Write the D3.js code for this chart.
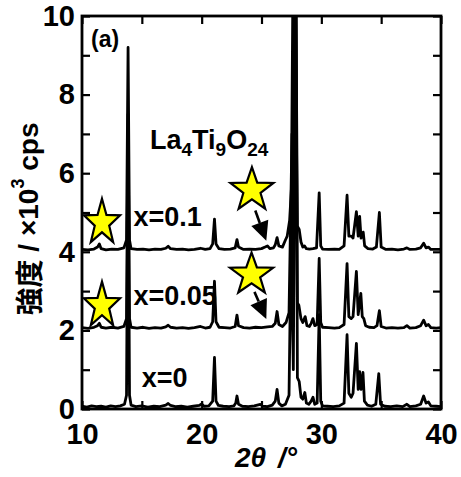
<!DOCTYPE html>
<html><head><meta charset="utf-8">
<script src="https://cdn.jsdelivr.net/npm/d3@7/dist/d3.min.js"></script>
<style>
html,body{margin:0;padding:0;background:#fff;}
svg text{font-family:"Liberation Sans",Arial,sans-serif;font-weight:bold;fill:#000;}
</style></head>
<body>
<svg id="chart" width="461" height="477"></svg>
<script>
// ---- data (2θ in degrees, intensity in 10^3 cps, relative to series offset) ----
const seriesNames = ["x=0", "x=0.05", "x=0.1"];
const seriesOffsets = [0, 2, 4];
const xTicks = [10, 15, 20, 25, 30, 35, 40];
const xTickLabels = [10, 20, 30, 40];
const yTicks = [0, 1, 2, 3, 4, 5, 6, 7, 8, 9, 10];
const yTickLabels = [0, 2, 4, 6, 8, 10];

const pattern0 = [
[10.0,0.07],[10.4,0.05],[10.8,0.08],[11.2,0.06],[11.6,0.07],[12.0,0.05],[12.4,0.08],[12.8,0.06],[13.2,0.08],[13.55,0.12],
[13.72,0.35],[13.85,7.0],[13.97,0.35],[14.1,0.1],[14.5,0.06],[15.0,0.08],[15.5,0.05],[16.0,0.07],[16.5,0.06],[17.0,0.1],
[17.2,0.14],[17.4,0.09],[17.8,0.06],[18.3,0.07],[18.8,0.05],[19.3,0.07],[19.8,0.09],[20.0,0.13],[20.2,0.07],[20.6,0.08],
[20.92,0.2],[21.07,1.31],[21.2,0.2],[21.4,0.09],[21.8,0.07],[22.3,0.06],[22.7,0.08],[22.85,0.15],[22.95,0.33],[23.08,0.12],
[23.4,0.07],[23.9,0.06],[24.4,0.08],[24.9,0.12],[25.1,0.07],[25.5,0.06],[25.9,0.1],[26.15,0.2],[26.3,0.5],[26.45,0.15],
[26.7,0.08],[27.0,0.12],[27.3,0.35],[27.48,4.5],[27.66,1.0],[27.87,12],[28.0,0.8],[28.15,0.7],[28.3,0.3],[28.45,0.25],
[28.62,0.42],[28.75,0.15],[28.95,0.12],[29.15,0.2],[29.3,0.3],[29.45,0.12],[29.65,0.15],[29.82,2.4],[29.95,0.2],[30.1,0.08],
[30.5,0.07],[31.0,0.06],[31.5,0.08],[31.9,0.15],[32.15,1.89],[32.3,0.4],[32.5,0.3],[32.65,0.4],[32.93,1.67],[33.08,0.5],
[33.2,0.95],[33.32,0.5],[33.48,0.93],[33.6,0.2],[33.85,0.1],[34.2,0.07],[34.55,0.12],[34.8,0.9],[34.95,0.12],[35.3,0.07],
[35.8,0.06],[36.3,0.08],[36.8,0.06],[37.15,0.12],[37.4,0.06],[37.9,0.08],[38.3,0.12],[38.55,0.33],[38.75,0.15],[38.95,0.18],
[39.15,0.08],[39.6,0.07],[40.0,0.06]
];
const pattern005 = [
[10.0,0.07],[10.5,0.05],[11.0,0.08],[11.3,0.12],[11.45,0.18],[11.6,0.08],[12.0,0.06],[12.5,0.08],[13.0,0.06],[13.5,0.1],
[13.72,0.3],[13.85,5.5],[13.97,0.3],[14.1,0.08],[14.6,0.06],[15.1,0.08],[15.6,0.05],[16.1,0.07],[16.6,0.06],[17.0,0.09],
[17.2,0.13],[17.4,0.08],[17.9,0.06],[18.4,0.07],[18.9,0.05],[19.4,0.07],[19.9,0.1],[20.3,0.06],[20.7,0.08],[20.92,0.22],
[21.07,1.25],[21.2,0.22],[21.45,0.08],[21.9,0.07],[22.4,0.06],[22.8,0.1],[22.95,0.39],[23.08,0.12],[23.5,0.07],[24.0,0.06],
[24.5,0.08],[25.0,0.07],[25.5,0.09],[25.9,0.1],[26.15,0.18],[26.3,0.48],[26.45,0.15],[26.75,0.1],[27.05,0.2],[27.3,0.45],
[27.55,5.0],[27.68,1.8],[27.8,12],[28.0,0.7],[28.12,0.64],[28.3,0.3],[28.45,0.2],[28.65,0.35],[28.8,0.12],[29.0,0.1],
[29.15,0.18],[29.3,0.3],[29.45,0.12],[29.65,0.15],[29.82,1.83],[29.95,0.2],[30.1,0.08],[30.6,0.07],[31.1,0.06],[31.5,0.07],
[31.9,0.15],[32.15,1.7],[32.3,0.35],[32.5,0.3],[32.65,0.35],[32.93,1.5],[33.08,0.4],[33.3,0.94],[33.42,0.35],[33.55,0.3],
[33.7,0.12],[34.0,0.08],[34.4,0.07],[34.65,0.12],[34.85,0.5],[35.0,0.1],[35.4,0.06],[35.9,0.07],[36.4,0.06],[36.9,0.07],
[37.15,0.12],[37.4,0.06],[37.9,0.07],[38.3,0.12],[38.55,0.26],[38.75,0.12],[38.95,0.15],[39.15,0.07],[39.6,0.06],[40.0,0.07]
];
const pattern01 = [
[10.0,0.06],[10.5,0.05],[11.0,0.07],[11.3,0.12],[11.45,0.2],[11.6,0.08],[12.0,0.05],[12.5,0.07],[13.0,0.06],[13.5,0.1],
[13.72,0.3],[13.85,5.2],[13.97,0.3],[14.1,0.08],[14.6,0.06],[15.1,0.07],[15.6,0.05],[16.1,0.07],[16.6,0.06],[17.0,0.09],
[17.2,0.14],[17.4,0.08],[17.9,0.06],[18.4,0.07],[18.9,0.05],[19.4,0.06],[19.9,0.09],[20.3,0.06],[20.7,0.08],[20.92,0.2],
[21.07,0.83],[21.2,0.2],[21.45,0.08],[21.9,0.06],[22.4,0.07],[22.8,0.1],[22.95,0.31],[23.08,0.12],[23.5,0.06],[24.0,0.07],
[24.5,0.06],[25.0,0.08],[25.3,0.12],[25.5,0.15],[25.7,0.08],[26.0,0.1],[26.15,0.18],[26.3,0.36],[26.45,0.15],[26.75,0.12],
[27.0,0.3],[27.15,0.4],[27.35,0.8],[27.5,1.6],[27.75,12],[28.0,0.65],[28.15,0.57],[28.3,0.25],[28.45,0.12],
[28.6,0.15],[28.75,0.08],[29.0,0.07],[29.3,0.08],[29.6,0.1],[29.82,1.5],[29.95,0.15],[30.1,0.07],[30.6,0.06],[31.1,0.07],
[31.5,0.06],[31.9,0.15],[32.15,1.44],[32.3,0.4],[32.5,0.4],[32.65,0.35],[32.93,1.02],[33.08,0.4],[33.2,0.9],[33.32,0.35],
[33.5,0.5],[33.62,0.15],[33.9,0.08],[34.3,0.07],[34.6,0.12],[34.85,1.0],[35.0,0.12],[35.4,0.06],[35.9,0.07],[36.4,0.05],
[36.9,0.07],[37.15,0.1],[37.4,0.06],[37.9,0.07],[38.3,0.1],[38.55,0.22],[38.75,0.1],[38.95,0.12],[39.15,0.06],[39.6,0.06],
[40.0,0.06]
];
const patterns = [pattern0, pattern005, pattern01];

// label positions in data units [2θ, intensity]
const seriesLabelPos = [[15.0, 0.55], [14.3, 2.65], [14.3, 4.65]];
// star annotations: [2θ, intensity]
const starPos = [[11.67, 4.74], [11.67, 2.63], [24.2, 5.57], [24.17, 3.42]];
const starRadii = [[19, 24], [19, 24], [22.6, 23], [22.6, 22.1]];
// arrows: [[from2θ, fromI], [to2θ, toI]]
const arrows = [[[24.48, 5.05], [25.4, 4.28]], [[24.41, 2.98], [25.4, 2.29]]];

// ---- chart ----
const svg = d3.select("#chart");
const X0 = 82, X1 = 441, Y0 = 409, Y1 = 16;
const x = d3.scaleLinear().domain([10, 40]).range([X0, X1]);
const y = d3.scaleLinear().domain([0, 10]).range([Y0, Y1]);

svg.append("defs").append("clipPath").attr("id", "clip")
  .append("rect").attr("x", X0).attr("y", Y1).attr("width", X1 - X0).attr("height", Y0 - Y1);

const line = d3.line().x(d => x(d[0])).y(d => y(d[1]));
const gData = svg.append("g").attr("clip-path", "url(#clip)");
patterns.forEach((p, i) => {
  gData.append("path")
    .attr("d", line(p.map(d => [d[0], d[1] + seriesOffsets[i]])))
    .attr("fill", "none").attr("stroke", "#000").attr("stroke-width", 2.8)
    .attr("stroke-linejoin", "round");
});

// axes
const fmtX = d => xTickLabels.includes(d) ? d : "";
const fmtY = d => yTickLabels.includes(d) ? d : "";
function styleAxis(g){
  g.select(".domain").remove();
  g.selectAll(".tick line").attr("stroke", "#000").attr("stroke-width", 2.2);
  g.selectAll(".tick text").style("font-size", "29px").style("font-weight", "bold")
    .style("font-family", '"Liberation Sans", Arial, sans-serif').attr("fill", "#000");
}
svg.append("g").attr("transform", `translate(0,${Y0})`)
  .call(d3.axisBottom(x).tickValues(xTicks).tickFormat(fmtX).tickSize(-8).tickPadding(14)).call(styleAxis);
svg.append("g").attr("transform", `translate(0,${Y1})`)
  .call(d3.axisTop(x).tickValues(xTicks).tickFormat("").tickSize(-8)).call(styleAxis);
svg.append("g").attr("transform", `translate(${X0},0)`)
  .call(d3.axisLeft(y).tickValues(yTicks).tickFormat(fmtY).tickSize(-8).tickPadding(7)).call(styleAxis);
svg.append("g").attr("transform", `translate(${X1},0)`)
  .call(d3.axisRight(y).tickValues(yTicks).tickFormat("").tickSize(-8)).call(styleAxis);

svg.append("rect").attr("x", X0).attr("y", Y1).attr("width", X1 - X0).attr("height", Y0 - Y1)
  .attr("fill", "none").attr("stroke", "#000").attr("stroke-width", 2.8);

// axis titles
svg.append("text").attr("transform", `translate(28,219) rotate(-90)`)
  .attr("text-anchor", "middle").attr("dominant-baseline", "central")
  .style("font-size", "28px")
  .style("font-family", '"Liberation Sans", Arial, "Noto Sans CJK JP", sans-serif')
  .html('<tspan style="font-family:\'Noto Sans CJK JP\'">強度</tspan> / ×10<tspan dy="-10" style="font-size:18px">3</tspan><tspan dy="10"> cps</tspan>');

const xt = svg.append("text").attr("x", 266).attr("y", 467).attr("text-anchor", "middle")
  .style("font-size", "28px").style("font-style", "italic");
xt.append("tspan").text("2θ");
xt.append("tspan").attr("dx", 12).text("/°");

// panel label
svg.append("text").attr("x", 91).attr("y", 47).style("font-size", "23px").text("(a)");

// compound label
const comp = svg.append("text").attr("x", 150).attr("y", 149).style("font-size", "27px");
comp.append("tspan").text("La");
comp.append("tspan").attr("dy", 7).style("font-size", "19px").text("4");
comp.append("tspan").attr("dy", -7).text("Ti");
comp.append("tspan").attr("dy", 7).style("font-size", "19px").text("9");
comp.append("tspan").attr("dy", -7).text("O");
comp.append("tspan").attr("dy", 7).style("font-size", "19px").text("24");

// series labels
seriesNames.forEach((n, i) => {
  svg.append("text").attr("x", x(seriesLabelPos[i][0])).attr("y", y(seriesLabelPos[i][1]))
    .style("font-size", "27px").text(n);
});

// stars
function starPath(cx, cy, rx, ry){
  const pts = [];
  for (let k = 0; k < 10; k++){
    const a = -Math.PI / 2 + k * Math.PI / 5;
    const r = k % 2 === 0 ? 1 : 0.4;
    pts.push([cx + rx * r * Math.cos(a), cy + ry * r * Math.sin(a)]);
  }
  return "M" + pts.map(p => p.join(",")).join("L") + "Z";
}
starPos.forEach((s, i) => {
  svg.append("path").attr("d", starPath(x(s[0]), y(s[1]), starRadii[i][0], starRadii[i][1]))
    .attr("fill", "#ffff00").attr("stroke", "#000").attr("stroke-width", 2.2).attr("stroke-linejoin", "miter");
});

// arrows
arrows.forEach(a => {
  const x1 = x(a[0][0]), y1 = y(a[0][1]), x2 = x(a[1][0]), y2 = y(a[1][1]);
  const ang = Math.atan2(y2 - y1, x2 - x1);
  const hl = 19, hw = 9;
  const bx = x2 - hl * Math.cos(ang), by = y2 - hl * Math.sin(ang);
  svg.append("line").attr("x1", x1).attr("y1", y1).attr("x2", bx).attr("y2", by)
    .attr("stroke", "#000").attr("stroke-width", 2.6);
  const p1 = [bx + hw * Math.sin(ang), by - hw * Math.cos(ang)];
  const p2 = [bx - hw * Math.sin(ang), by + hw * Math.cos(ang)];
  svg.append("path").attr("d", `M${x2},${y2}L${p1}L${p2}Z`).attr("fill", "#000");
});
</script>
</body></html>
